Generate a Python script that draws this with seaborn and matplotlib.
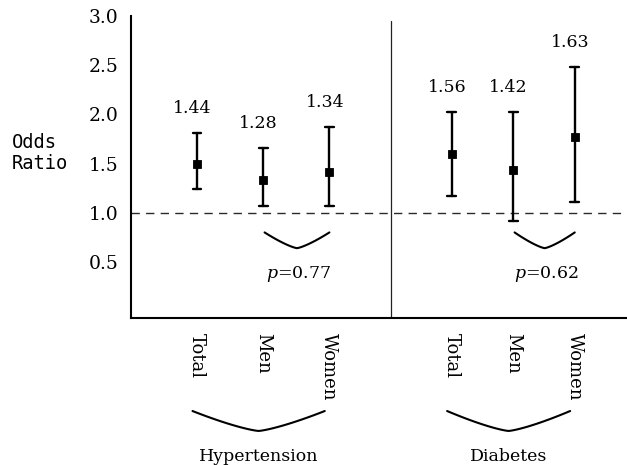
import numpy as np
import pandas as pd
import matplotlib
matplotlib.use("Agg")
import matplotlib.pyplot as plt
import seaborn as sns

# ---- data ----
groups = ["Hypertension", "Diabetes"]
subgroups = ["Total", "Men", "Women"]
ht_or = [1.50, 1.33, 1.41]
ht_lower = [1.24, 1.07, 1.07]
ht_upper = [1.81, 1.66, 1.87]
db_or = [1.60, 1.43, 1.77]
db_lower = [1.17, 0.92, 1.11]
db_upper = [2.02, 2.02, 2.48]
ht_labels = ["1.44", "1.28", "1.34"]
db_labels = ["1.56", "1.42", "1.63"]
p_values = ["0.77", "0.62"]
yticks = [0.5, 1.0, 1.5, 2.0, 2.5, 3.0]

# ---- layout ----
group_start = [1.0, 4.85]
group_step = [1.0, 0.93]

sns.set_style("white")
plt.rcParams["font.family"] = ["DejaVu Serif"]
plt.rcParams["mathtext.fontset"] = "dejavuserif"
for key in ["text.color", "xtick.color", "ytick.color", "axes.labelcolor"]:
    plt.rcParams[key] = "black"

ors = [ht_or, db_or]
lows = [ht_lower, db_lower]
ups = [ht_upper, db_upper]
labs = [ht_labels, db_labels]

rows = []
positions = []
for g, name in enumerate(groups):
    for i, sub in enumerate(subgroups):
        x = group_start[g] + i * group_step[g]
        positions.append(x)
        for v in (lows[g][i], ors[g][i], ups[g][i]):
            rows.append({"group": name, "sub": sub, "x": x, "value": v})
df = pd.DataFrame(rows)

fig = plt.figure(figsize=(6.27, 4.65), dpi=100)
ax = fig.add_axes([131 / 627, 1 - 318 / 465, (627 - 131) / 627, 302 / 465])

sns.pointplot(data=df, x="x", y="value", native_scale=True,
              estimator="median", errorbar=("pi", 100), capsize=0.14,
              color="black", marker="s", linestyle="none",
              markersize=6.3, markeredgewidth=0.6,
              err_kws={"linewidth": 1.7}, ax=ax)

ax.set_xlim(0, 7.5)
ax.set_ylim(-0.07, 3.0)

# reference line and divider
ax.axhline(1.0, color="#2a2a2a", lw=1.0, dashes=(6, 4.5), zorder=0,
           clip_on=False)
div_x = (group_start[0] + 2 * group_step[0] + group_start[1]) / 2
ax.axvline(div_x, ymin=0, ymax=0.985, color="#222222", lw=0.9)

# value labels
for g in range(2):
    for i in range(3):
        x = group_start[g] + i * group_step[g]
        ax.text(x - 0.07, ups[g][i] + 0.25, labs[g][i], ha="center",
                va="center", fontsize=12.5)


def brace(x0, x1, ytop, depth, transform=None):
    t = np.linspace(-1, 1, 81)
    xs = (x0 + x1) / 2 + t * (x1 - x0) / 2
    ys = ytop - depth * (1 - np.abs(t) ** 1.3)
    kw = {}
    if transform is not None:
        kw["transform"] = transform
    ax.plot(xs, ys, color="black", lw=1.5, clip_on=False, **kw)


# p-value braces between Men and Women
for g in range(2):
    xm = group_start[g] + group_step[g]
    xw = group_start[g] + 2 * group_step[g]
    brace(xm + 0.02, xw, 0.80, 0.16)
    ax.text((xm + xw) / 2 + 0.03, 0.38, "$\\mathit{p}$=" + p_values[g],
            ha="center", va="center", fontsize=12.5)

# group braces below the axis
xt = ax.get_xaxis_transform()
for g, name in enumerate(groups):
    x0 = group_start[g]
    x2 = group_start[g] + 2 * group_step[g]
    brace(x0 - 0.07, x2 - 0.07, -0.308, 0.066, transform=xt)
    ax.text((x0 + x2) / 2 - 0.07, -0.457, name, transform=xt,
            ha="center", va="center", fontsize=12.5)

# axes styling
ax.set_xticks(positions)
ax.set_xticklabels(subgroups * 2, rotation=270, fontsize=13,
                   ha="center", va="top")
ax.set_yticks(yticks)
ax.set_yticklabels([f"{v:.1f}" for v in yticks], fontsize=13.5)
ax.tick_params(axis="x", length=0, pad=11)
ax.tick_params(axis="y", length=3, width=1, direction="out", pad=6)
ax.set_xlabel("")
ax.set_ylabel("")
for s in ["top", "right"]:
    ax.spines[s].set_visible(False)
for s in ["left", "bottom"]:
    ax.spines[s].set_linewidth(1.5)
    ax.spines[s].set_color("black")

fig.text(12 / 627, 1 - 153 / 465, "Odds\nRatio", family="DejaVu Sans Mono",
         fontsize=13.5, ha="left", va="center", linespacing=1.1)

fig.savefig("out.png", dpi=100)
